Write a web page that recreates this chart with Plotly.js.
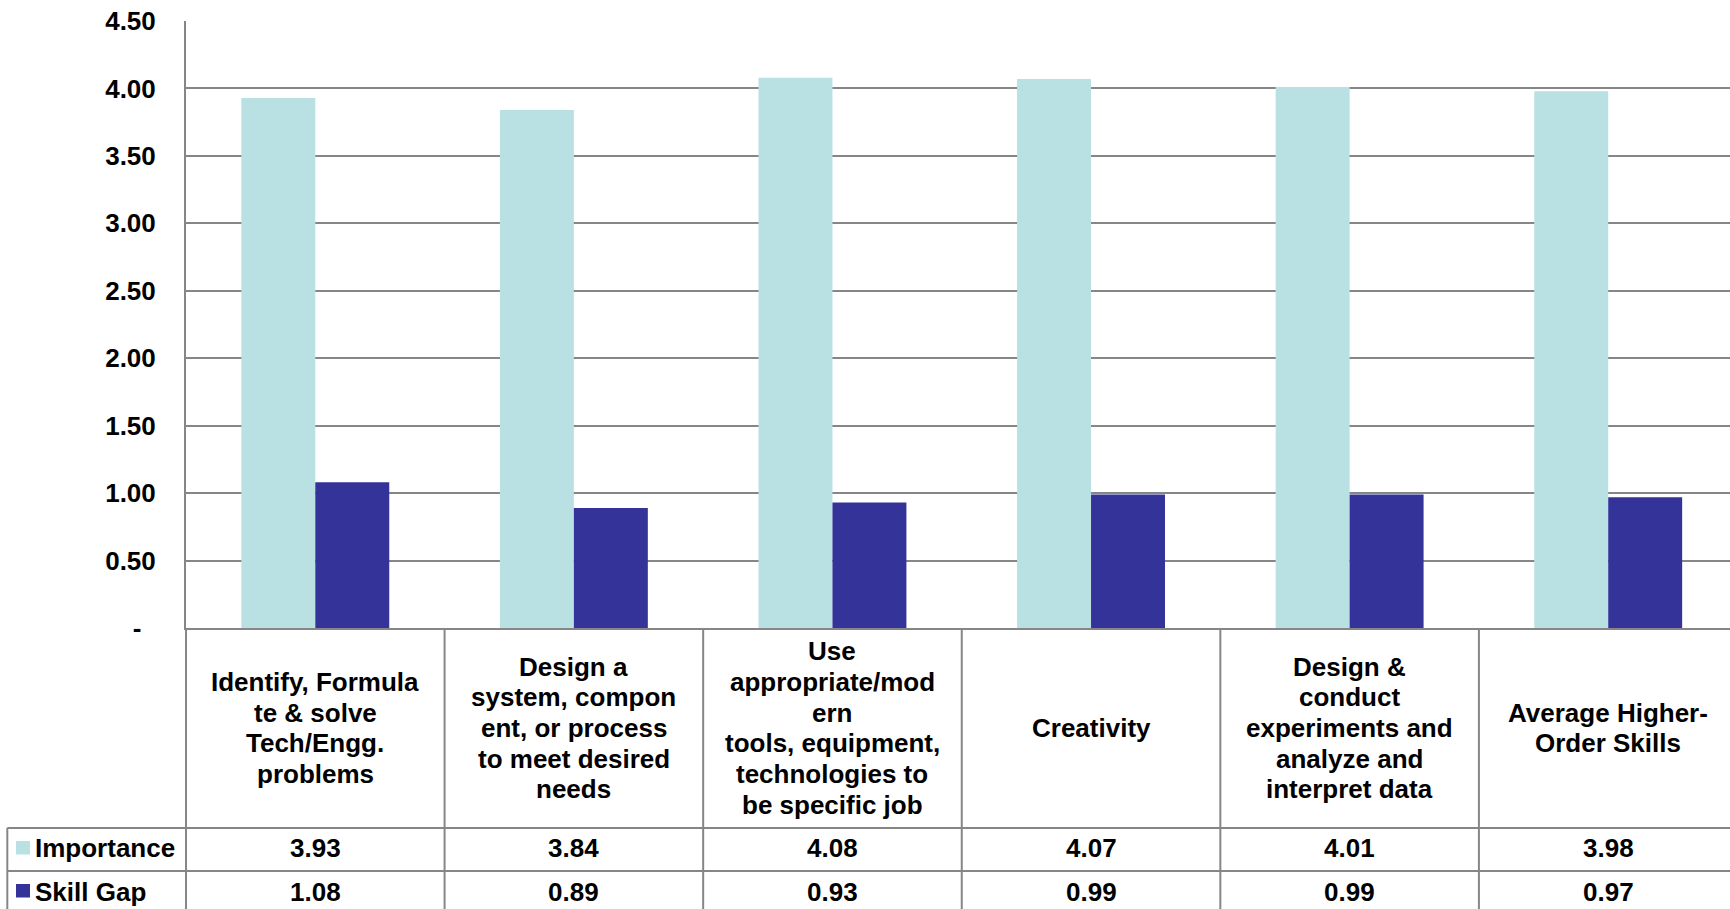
<!DOCTYPE html>
<html><head><meta charset="utf-8">
<script src="https://cdn.plot.ly/plotly-3.0.1.min.js"></script>
<style>html,body{margin:0;padding:0;background:#fff;overflow:hidden}</style>
</head><body><div id="chart" style="width:1730px;height:909px"></div>
<script>
// ---- data ----
const categories = [
  "Identify, Formulate & solve Tech/Engg. problems",
  "Design a system, component, or process to meet desired needs",
  "Use appropriate/modern tools, equipment, technologies to be specific job",
  "Creativity",
  "Design & conduct experiments and analyze and interpret data",
  "Average Higher-Order Skills"
];
const categoryLines = [
  ["Identify, Formula", "te & solve", "Tech/Engg.", "problems"],
  ["Design a", "system, compon", "ent, or process", "to meet desired", "needs"],
  ["Use", "appropriate/mod", "ern", "tools, equipment,", "technologies to", "be specific job"],
  ["Creativity"],
  ["Design &", "conduct", "experiments and", "analyze and", "interpret data"],
  ["Average Higher-", "Order Skills"]
];
const seriesNames = ["Importance", "Skill Gap"];
const importance = [3.93, 3.84, 4.08, 4.07, 4.01, 3.98];
const skillGap = [1.08, 0.89, 0.93, 0.99, 0.99, 0.97];
const yTickVals = [0, 0.5, 1, 1.5, 2, 2.5, 3, 3.5, 4, 4.5];
const yTickText = ["-\u00a0\u00a0", "0.50", "1.00", "1.50", "2.00", "2.50", "3.00", "3.50", "4.00", "4.50"];

// ---- styling ----
const colors = ["#B9E0E3", "#333399"];
const lineColor = "#868686";
const FONT = "Liberation Sans, Arial, sans-serif";
const W = 1730, H = 909, L = 186, T = 21, B = 628;
const plotW = W - L, plotH = B - T;
const px = x => (x - L) / plotW;
const py = y => (B - y) / plotH;
const idx = categories.map((c, i) => i);

const traces = [
  {type: "bar", name: seriesNames[0], x: idx, y: importance, marker: {color: colors[0], line: {width: 0}}, hoverinfo: "y"},
  {type: "bar", name: seriesNames[1], x: idx, y: skillGap, marker: {color: colors[1], line: {width: 0}}, hoverinfo: "y"}
];

const shapes = [];
const lineStyle = {color: lineColor, width: 2};
// left border extension through table
shapes.push({type: "line", xref: "paper", yref: "paper", x0: 0, x1: 0, y0: 0, y1: py(915), line: lineStyle});
// category separators
for (let i = 1; i < categories.length; i++) {
  shapes.push({type: "line", xref: "x", yref: "paper", x0: i - 0.5, x1: i - 0.5, y0: 0, y1: py(915), line: lineStyle});
}
// row lines
[828, 871].forEach(y => shapes.push({type: "line", xref: "paper", yref: "paper", x0: px(7.3), x1: 1.05, y0: py(y), y1: py(y), line: lineStyle}));
// legend column left border
shapes.push({type: "line", xref: "paper", yref: "paper", x0: px(7.3), x1: px(7.3), y0: py(828), y1: py(915), line: lineStyle});
// legend keys
const rowCenters = [849.5, 892.5];
rowCenters.forEach((yc, s) => shapes.push({type: "rect", xref: "paper", yref: "paper",
  x0: px(16), x1: px(30), y0: py(yc - 8.5), y1: py(yc + 5), fillcolor: colors[s], line: {width: 0}}));

const annotations = [];
const tf = {family: FONT, size: 26, color: "#000", weight: "bold"};
const lineGap = 30.7, headerCenter = 728;
categoryLines.forEach((lines, i) => {
  const n = lines.length;
  lines.forEach((t, k) => {
    const yc = headerCenter + (k - (n - 1) / 2) * lineGap;
    annotations.push({xref: "x", yref: "paper", x: i, y: py(yc), text: "<b>" + t + "</b>", showarrow: false,
      xanchor: "center", yanchor: "middle", font: tf});
  });
});
[importance, skillGap].forEach((vals, s) => {
  vals.forEach((v, i) => annotations.push({xref: "x", yref: "paper", x: i, y: py(rowCenters[s] - 1), text: "<b>" + v.toFixed(2) + "</b>",
    showarrow: false, xanchor: "center", yanchor: "middle", font: tf}));
  annotations.push({xref: "paper", yref: "paper", x: px(33), y: py(rowCenters[s] - 1), text: "<b>" + seriesNames[s] + "</b>",
    showarrow: false, xanchor: "left", yanchor: "middle", font: tf});
});

const layout = {
  width: W, height: H,
  margin: {l: L, r: 0, t: T, b: H - B, pad: 0},
  paper_bgcolor: "#fff", plot_bgcolor: "#fff",
  showlegend: false,
  barmode: "group", bargap: 0.428, bargroupgap: 0,
  xaxis: {type: "linear", range: [-0.5, 5.471], showticklabels: false, showgrid: false, zeroline: false,
    showline: true, linecolor: lineColor, linewidth: 2, ticks: "", fixedrange: true},
  yaxis: {range: [0, 4.5], tickvals: yTickVals, ticktext: yTickText, showgrid: true, gridcolor: lineColor, gridwidth: 2,
    zeroline: false, showline: true, linecolor: lineColor, linewidth: 2, ticks: "", ticklabelstandoff: 23,
    tickfont: {family: FONT, size: 26, color: "#000", weight: "bold"}, fixedrange: true},
  shapes: shapes,
  annotations: annotations,
  font: {family: FONT}
};

Plotly.newPlot("chart", traces, layout, {displayModeBar: false, staticPlot: true});
</script>
</body></html>
